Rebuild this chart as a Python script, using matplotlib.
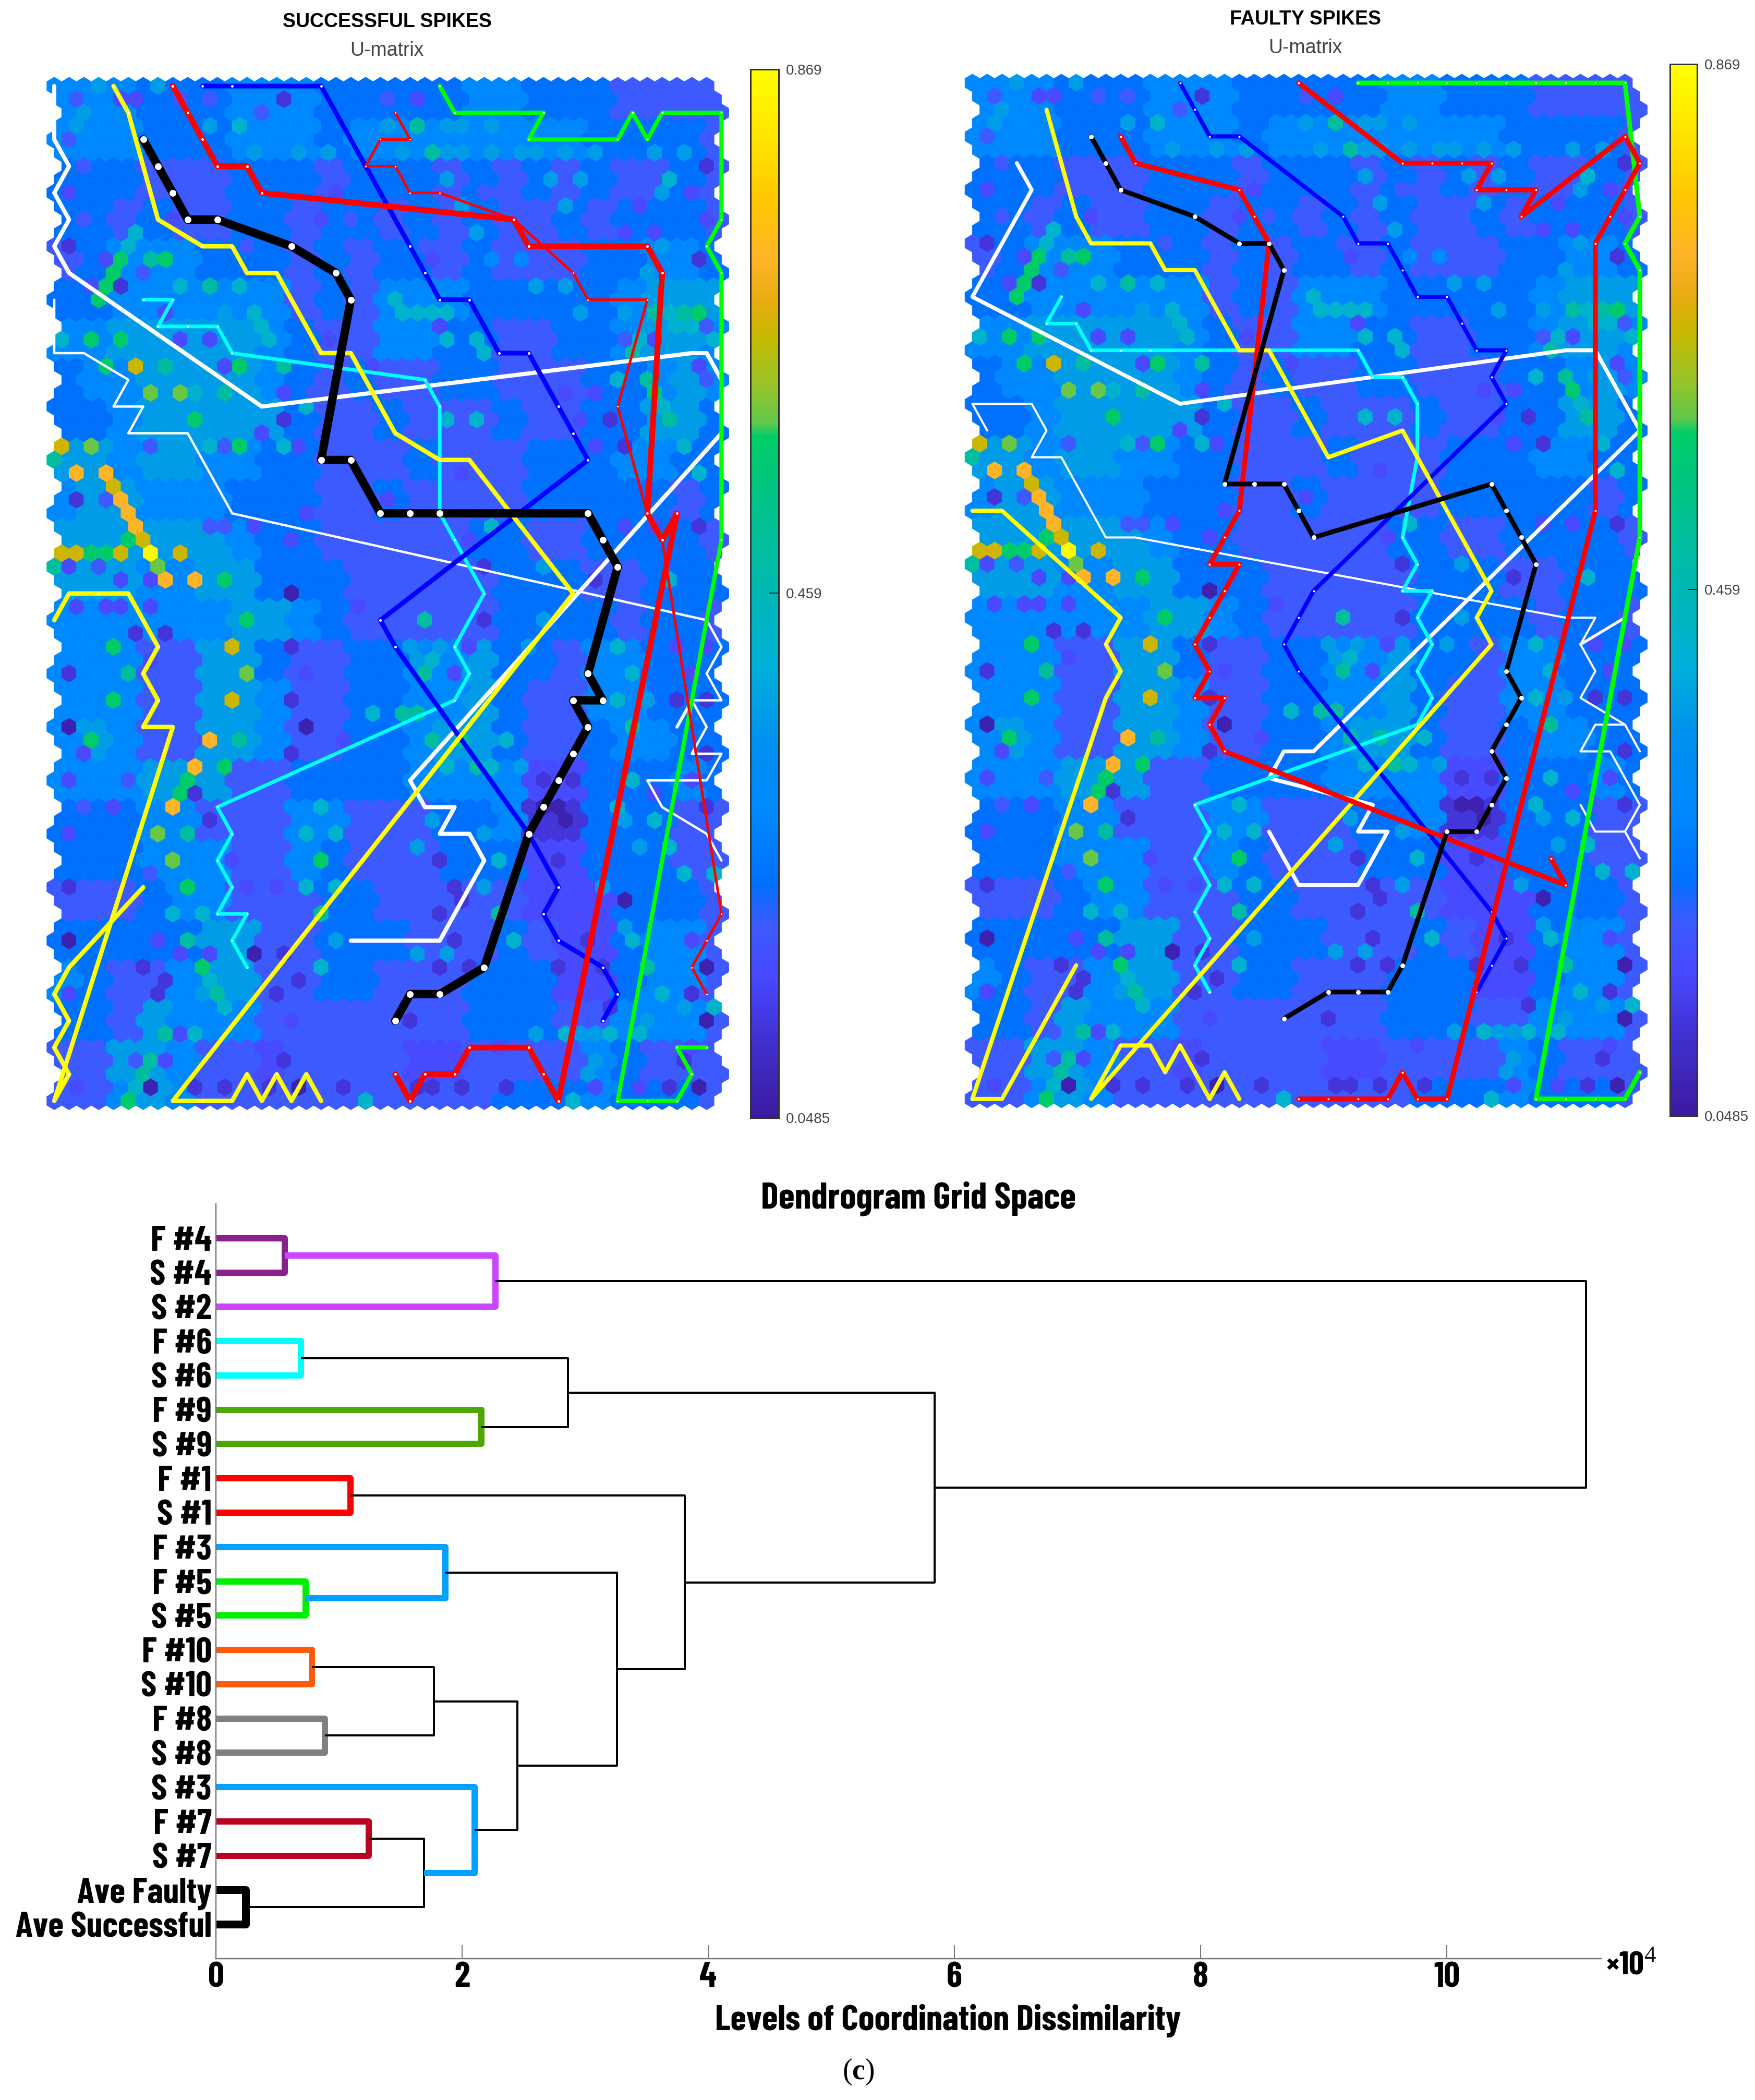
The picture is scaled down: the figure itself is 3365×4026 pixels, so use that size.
import numpy as np
import matplotlib
matplotlib.use('Agg')
import matplotlib.pyplot as plt
from matplotlib.collections import PolyCollection
from matplotlib.colors import LinearSegmentedColormap, Normalize

W = 3366
H = 4026
PX = 72 / 100.0  # one image pixel in points at dpi=100

plt.rcParams['font.family'] = ['Liberation Sans', 'DejaVu Sans']
plt.rcParams['mathtext.fontset'] = 'custom'
plt.rcParams['mathtext.rm'] = 'Liberation Serif'
plt.rcParams['mathtext.bf'] = 'Liberation Serif:bold'

# U-matrix colour scale
cbar_ticks = [0.0485, 0.459, 0.869]
cbar_labels = ['0.0485', '0.459', '0.869']
scale_fracs = [0, .074, .133, .184, .223, .288, .36, .424, .5, .553, .65, .663, .70, .747, .78, .82, .877, .94, 1]
scale_colors = ['#3c1aa0', '#4030d0', '#4848ff', '#3c5aff', '#0070ff', '#0088ff', '#0090f0', '#00aedc', '#00b8b4',
                '#00be9a', '#00cc66', '#60c84c', '#98c428', '#c8b800', '#e8ac10', '#ffb428', '#ffc800', '#ffe600', '#ffff00']

# estimated cell values, coarse background (3 hex rows x 2 hex columns per character)
umat_levels = {'0': .072, '1': .122, '2': .163, '3': .20, '4': .233, '5': .285, '6': .365, '7': .42,
               '8': .49, '9': .574, 'a': .598, 'b': .664, 'c': .721, 'd': .861}
umat_coarse = [
    '55544455544444554443333',
    '55544455545555555544443',
    '44433344434443434343343',
    '44343344344343433434443',
    '34555444343443433344554',
    '44555555343555444445666',
    '55666665433554433445665',
    '45566665434334433344565',
    '44566666433433343344664',
    '66566554433343334445544',
    '56655544433433334444434',
    '66666654433333443344443',
    '66655664443333344433444',
    '55555566543333344443443',
    '55533664334455644355444',
    '55533665334455643355444',
    '56533665334456643345544',
    '55566633444455552244454',
    '44455333553334451144433',
    '44455533543334442244433',
    '33345533344333332224443',
    '44444663344433343224553',
    '54335663344333444224553',
    '44365553333333444335553',
    '33665332333322333354333',
    '33565333333333344454443',
]

# single cells that stand out, as (hex row, x position in hex widths)
spots_0 = [(61, 38.5), (66, 44), (70, 44), (75, 43.5), (48, 17), (48, 1), (64, 1), (65, 13.5), (75, 6.5), (75, 16.5),
           (38, 16), (54, 32.5), (54, 33.5), (55, 34.5)]
spots_1 = [(1, 15.5), (6, 43.5), (13, 43.5), (12, 1), (15, 4.5), (25, 37.5), (25, 15.5), (27, 38.5), (33, 43.5), (36, 29),
           (37, 36.5), (40, 29), (41, 5.5), (41, 7.5), (42, 16), (44, 1), (46, 16), (46, 42), (46, 44), (50, 16), (50, 44),
           (52, 33), (52, 35), (53, 9.5), (54, 44), (55, 10.5), (56, 35), (58, 26), (58, 34), (60, 1), (60, 27), (61, 27.5),
           (62, 26), (64, 27), (64, 35.5), (65, 15.5), (66, 6), (66, 26), (66, 28), (66, 36.5), (66, 34), (67, 7.5),
           (67, 16.5), (68, 7), (68, 15), (68, 43), (69, 37.5), (70, 24), (73, 15.5), (73, 42.5), (75, 9.5), (75, 11.5),
           (75, 14.5), (75, 19.5), (75, 24.5), (75, 25.5), (75, 27.5), (75, 30.5), (75, 41.5), (31, 1.5)]
spots_2 = [(1, 4.5), (1, 5.5), (1, 24.5), (8, 1), (8, 19), (8, 43), (9, 39.5), (10, 8), (10, 18), (10, 44), (11, 38.5),
           (11, 40.5), (13, 3.5), (13, 25.5), (15, 2.5), (17, 7.5), (18, 26), (19, 8.5), (19, 10.5), (19, 18.5), (19, 40.5),
           (21, 11.5), (21, 21.5), (21, 43.5), (23, 15.5), (23, 34.5), (23, 36.5), (25, 35.5), (26, 14), (27, 16.5), (27, 36.5),
           (29, 27.5), (31, 22.5), (32, 17), (33, 13.5), (33, 38.5), (33, 40.5), (34, 16), (34, 28), (36, 1), (37, 4.5),
           (37, 6.5), (39, 1.5), (39, 3.5), (39, 4.5), (39, 6.5), (39, 20.5), (42, 28), (42, 42), (42, 44), (43, 6.5),
           (44, 17), (44, 27), (44, 43), (49, 19.5), (50, 2), (52, 1), (52, 43), (53, 40.5), (54, 4), (56, 1), (58, 12),
           (60, 13), (60, 15), (62, 34), (63, 37.5), (64, 7), (64, 43), (65, 8.5), (65, 10.5), (68, 1), (70, 16), (71, 8.5),
           (72, 43), (72, 29.5), (73, 7.5), (75, 1.5), (75, 39.5), (75, 36.5), (67, 36.5)]
spots_3 = [(1, 1.5), (1, 8.5), (1, 10.5), (1, 22.5), (2, 14), (4, 1), (6, 2), (8, 9), (8, 29), (8, 31), (10, 2), (10, 10),
           (10, 20), (12, 13), (12, 25), (12, 0), (14, 6), (18, 44), (19, 38.5), (22, 44), (23, 17.5), (27, 6.5), (27, 11.5),
           (31, 3.5), (31, 42.5), (33, 10.5), (33, 11.5), (36, 3), (52, 5), (54, 2), (59, 6.5), (62, 44), (71, 19.5), (73, 5.5)]
spots_5 = [(3, 33.5), (3, 35.5), (13, 31), (13, 29)]
spots_6 = [(0, 3), (0, 7), (2, 2), (3, 1.5), (3, 10.5), (3, 22.5), (3, 26.5), (3, 27.5), (3, 29.5), (5, 23.5), (5, 26.5),
           (5, 27.5), (5, 29.5), (5, 31.5), (5, 32.5), (5, 34.5), (5, 36.5), (5, 40.5), (5, 42.5), (5, 13.5), (5, 16.5),
           (5, 18.5), (7, 26.5), (7, 33.5), (7, 35.5), (8, 40.5), (9, 27.5), (9, 34.5), (11, 28.5), (12, 41), (14, 40),
           (15, 32.5), (15, 34.5), (17, 11.5), (17, 35.5), (17, 38.5), (21, 10.5), (40, 33), (42, 24), (42, 26), (42, 32),
           (43, 24.5), (46, 40), (51, 31.5), (55, 38), (55, 25.5), (56, 29), (57, 24.5), (57, 39.5), (60, 29), (60, 37),
           (63, 38), (62, 29.5), (65, 24.5), (65, 26.5), (64, 19), (69, 42), (70, 40), (71, 32.5), (71, 35.5), (71, 36.5),
           (73, 36), (74, 35.5), (36, 33)]
spots_7 = [(3, 12.5), (7, 41.5), (11, 5.5), (12, 5), (15, 8.5), (15, 12.5), (16, 23), (17, 13.5), (17, 23.5), (17, 24.5),
           (17, 25.5), (17, 26.5), (17, 41.5), (18, 14), (18, 41.5), (18, 43), (19, 0.5), (19, 14.5), (19, 26.5), (19, 28.5),
           (19, 39.5), (19, 44.5), (20, 29), (22, 38), (23, 9.5), (24, 17), (24, 41), (25, 26.5), (25, 28.5), (27, 10.5),
           (27, 15.5), (27, 42.5), (29, 43.5), (33, 29.5), (37, 41.5), (42, 38), (43, 25.5), (44, 39), (46, 38), (47, 21.5),
           (49, 30.5), (51, 26.5), (51, 29.5), (52, 39), (54, 18), (54, 38), (55, 40.5), (56, 17), (56, 19), (57, 41.5),
           (58, 30), (59, 42.5), (59, 44.5), (60, 17), (60, 19), (62, 8), (62, 10), (64, 31), (64, 39), (66, 18), (67, 10.5),
           (68, 41), (69, 11.5), (69, 44.5), (71, 9.5), (71, 34.5), (71, 37.5), (71, 39.5), (75, 5.5), (76, 21), (76, 35)]
spots_8 = [(3, 24.5), (5, 25.5), (13, 6.5), (15, 10.5), (17, 40.5), (17, 42.5), (20, 39), (21, 7.5), (21, 15.5), (22, 40),
           (23, 11.5), (25, 41.5), (28, 0), (36, 0), (40, 25), (44, 25), (47, 23.5), (47, 24.5), (48, 39), (49, 12.5),
           (49, 25.5), (49, 27.5), (51, 28.5), (62, 18), (62, 30), (64, 9), (44, 5), (56, 9), (66, 40), (68, 11), (71, 7.5),
           (73, 6.5), (74, 6)]
spots_9 = [(13, 4.5), (13, 7.5), (14, 4), (15, 3.5), (16, 3), (17, 43.5), (19, 2.5), (19, 4.5), (21, 3.5), (21, 12.5),
           (23, 40.5), (25, 9.5), (27, 12.5), (34, 5), (35, 2.5), (35, 3.5), (37, 11.5), (40, 13), (42, 4), (46, 4), (49, 2.5),
           (51, 11.5), (52, 9), (53, 8.5), (58, 18), (60, 9), (66, 10), (76, 5)]
spots_a = [(23, 6.5), (23, 8.5), (27, 2.5), (36, 7), (44, 13), (56, 7), (58, 8)]
spots_b = [(21, 5.5), (27, 0.5), (30, 4), (34, 6), (35, 0.5), (35, 1.5), (35, 4.5), (35, 8.5), (42, 12), (46, 12)]
spots_c = [(29, 1.5), (29, 3.5), (31, 4.5), (32, 5), (33, 5.5), (37, 7.5), (37, 9.5), (49, 10.5), (51, 9.5), (54, 8)]
spots_d = [(35, 6.5)]

# neuron paths, left map (successful), as (x in hex widths, neuron row)
s_white_thin = [(0, 8), (0, 10), (2, 10), (5, 11), (4, 12), (6, 12), (5, 13), (9, 13), (12, 16), (44, 20), (45, 21), (44, 22),
                (45, 23), (43, 23), (44, 24), (43, 25), (45, 25), (44, 26), (40, 26), (41, 27), (44, 28), (45, 29)]
s_white_stub = [(42, 24), (43, 23)]
s_white_a = [(0, 0), (0, 2), (1, 3), (0, 4), (1, 5), (0, 6), (1, 7), (14, 12), (43, 10), (44, 10), (45, 11)]
s_white_b = [(45, 13), (24, 26), (25, 27), (27, 27), (26, 28), (28, 28), (29, 29), (27, 31), (26, 32), (20, 32)]
s_cyan = [(6, 8), (8, 8), (7, 9), (9, 9), (11, 9), (12, 10), (25, 11), (26, 12), (26, 16), (27, 17), (29, 19), (27, 21), (28, 22),
          (27, 23), (11, 27), (12, 28), (11, 29), (12, 30), (11, 31), (13, 31), (12, 32), (13, 33)]
s_blue = [(10, 0), (12, 0), (18, 0), (24, 6), (25, 7), (26, 8), (28, 8), (30, 10), (32, 10), (34, 12), (35, 13), (36, 14), (22, 20),
          (23, 21), (32, 28), (34, 30), (33, 31), (34, 32), (37, 33), (38, 34), (37, 35)]
s_green = [(26, 0), (27, 1), (33, 1), (32, 2), (38, 2), (39, 1), (40, 2), (41, 1), (45, 1), (45, 5), (44, 6), (45, 7), (45, 17),
           (38, 38), (40, 38), (42, 38), (43, 37), (42, 36), (44, 36)]
s_yellow_a = [(4, 0), (5, 1), (7, 5), (10, 6), (12, 6), (13, 7), (15, 7), (18, 10), (20, 10), (23, 13), (26, 14), (28, 14), (35, 19),
              (8, 38), (10, 38), (12, 38), (13, 37), (14, 38), (15, 37), (16, 38), (17, 37), (18, 38)]
s_yellow_b = [(0, 20), (1, 19), (3, 19), (5, 19), (6, 20), (7, 21), (6, 22), (7, 23), (6, 24), (8, 24), (0, 38), (1, 37), (0, 36),
              (1, 35), (0, 34), (1, 33), (6, 30)]
s_red_thin = [(23, 1), (24, 2), (22, 2), (21, 3), (23, 3), (24, 4), (26, 4), (31, 5), (35, 7), (36, 8), (40, 8), (38, 12), (40, 16),
              (41, 17), (45, 31), (44, 32), (43, 33), (44, 34)]
s_red = [(8, 0), (9, 1), (10, 2), (11, 3), (13, 3), (14, 4), (31, 5), (32, 6), (40, 6), (41, 7), (40, 16), (41, 17), (42, 16),
         (34, 38), (33, 37), (32, 36), (28, 36), (27, 37), (25, 37), (24, 38), (23, 37)]
s_black = [(6, 2), (7, 3), (8, 4), (9, 5), (11, 5), (16, 6), (19, 7), (20, 8), (18, 14), (20, 14), (22, 16), (24, 16), (26, 16),
           (36, 16), (37, 17), (38, 18), (36, 22), (37, 23), (35, 23), (36, 24), (35, 25), (34, 26), (33, 27), (32, 28), (29, 33),
           (26, 34), (24, 34), (23, 35)]

# neuron paths, right map (faulty)
f_white_a = [(1, 13), (0, 12), (4, 12), (5, 13), (4, 14), (6, 14), (9, 17), (11, 17), (40, 20), (42, 20), (41, 21), (42, 22), (41, 23),
             (44, 24), (45, 25)]
f_white_b = [(44, 20), (41, 21)]
f_white_c = [(44, 24), (42, 24), (41, 25), (43, 25), (45, 27), (44, 28), (42, 28), (41, 27)]
f_white_d = [(44, 28), (45, 29)]
f_white_thick = [(3, 3), (4, 4), (0, 8), (14, 12), (40, 10), (42, 10), (45, 13), (23, 25), (21, 25), (20, 26), (27, 27), (26, 28),
                 (28, 28), (26, 30), (22, 30), (21, 29), (20, 28)]
f_cyan = [(6, 8), (5, 9), (7, 9), (8, 10), (10, 10), (12, 10), (26, 10), (27, 11), (29, 11), (30, 12), (30, 14), (29, 17), (30, 18),
          (29, 19), (31, 19), (30, 20), (31, 21), (30, 22), (31, 23), (30, 24), (15, 27), (16, 28), (15, 29), (16, 30), (15, 31),
          (16, 32), (15, 33), (16, 34)]
f_blue = [(14, 0), (15, 1), (16, 2), (18, 2), (25, 5), (26, 6), (28, 6), (29, 7), (30, 8), (32, 8), (33, 9), (34, 10), (36, 10), (35, 11),
          (36, 12), (23, 19), (22, 20), (21, 21), (22, 22), (35, 31), (36, 32), (35, 33), (34, 34)]
f_green = [(26, 0), (28, 0), (30, 0), (32, 0), (34, 0), (36, 0), (38, 0), (40, 0), (42, 0), (44, 0), (45, 5), (44, 6), (45, 7), (45, 17),
           (38, 38), (40, 38), (42, 38), (44, 38), (45, 37)]
f_yellow_a = [(5, 1), (7, 5), (8, 6), (10, 6), (12, 6), (13, 7), (15, 7), (16, 8), (17, 9), (18, 10), (20, 10), (21, 11), (22, 12), (23, 13),
              (24, 14), (29, 13), (30, 14), (31, 15), (32, 16), (34, 18), (35, 19), (34, 20), (35, 21), (8, 38), (9, 37), (10, 36),
              (12, 36), (13, 37), (14, 36), (15, 37), (16, 38), (17, 37), (18, 38)]
f_yellow_b = [(0, 16), (2, 16), (10, 20), (9, 21), (10, 22), (9, 23), (0, 38), (2, 38), (3, 37), (4, 36), (5, 35), (6, 34), (7, 33)]
f_red_a = [(22, 0), (29, 3), (31, 3), (33, 3), (35, 3), (34, 4), (36, 4), (38, 4), (37, 5), (44, 2), (45, 3), (44, 4), (43, 5), (42, 6),
           (42, 16), (32, 38), (30, 38), (29, 37), (28, 38), (26, 38), (24, 38), (22, 38)]
f_red_b = [(10, 2), (11, 3), (18, 4), (19, 5), (20, 6), (18, 16), (17, 17), (16, 18), (18, 18), (17, 19), (16, 20), (15, 21), (16, 22),
           (15, 23), (17, 23), (16, 24), (17, 25), (40, 30), (39, 29)]
f_black = [(8, 2), (9, 3), (10, 4), (15, 5), (18, 6), (20, 6), (21, 7), (17, 15), (19, 15), (21, 15), (22, 16), (23, 17), (35, 15), (36, 16),
           (37, 17), (38, 18), (36, 22), (37, 23), (36, 24), (35, 25), (36, 26), (35, 27), (34, 28), (32, 28), (29, 33), (28, 34), (26, 34),
           (24, 34), (21, 35)]

# dendrogram
leaf_labels = ['F #4', 'S #4', 'S #2', 'F #6', 'S #6', 'F #9', 'S #9', 'F #1', 'S #1', 'F #3', 'F #5', 'S #5', 'F #10', 'S #10',
               'F #8', 'S #8', 'S #3', 'F #7', 'S #7', 'Ave Faulty', 'Ave Successful']
link_left = [0, 21, 3, 5, 23, 7, 10, 9, 12, 14, 29, 17, 19, 32, 16, 31, 28, 26, 25, 22]
link_right = [1, 2, 4, 6, 24, 8, 11, 27, 13, 15, 30, 18, 20, 33, 34, 35, 36, 37, 38, 39]
link_height = [0.56, 2.27, 0.69, 2.155, 2.86, 1.093, 0.73, 1.865, 0.78, 0.886, 1.77, 1.24, 0.24, 1.69, 2.10, 2.45, 3.26, 3.81, 5.84, 11.13]
link_color = ['#8b1f8b', '#cc44ff', '#00ffff', '#4ca800', 'k', '#ff0000', '#00ee00', '#00a0ff', '#ff5a0a', '#808080', 'k', '#bb0022', 'k', 'k',
              '#00a0ff', 'k', 'k', 'k', 'k', 'k']
link_px = [12, 12, 12, 12, 4, 12, 12, 12, 12, 12, 4, 12, 15, 4, 12, 4, 4, 4, 4, 4]
x_ticks = [0, 2, 4, 6, 8, 10]

cmap = LinearSegmentedColormap.from_list('umat', list(zip(scale_fracs, scale_colors)), N=512)
norm = Normalize(cbar_ticks[0], cbar_ticks[-1])

n_rows = 77
n_cols = 45
row_shift = [0, 0.5, 1, 0.5]

grid = np.zeros((n_rows, n_cols))
for r in range(n_rows):
    for c in range(n_cols):
        x = c + row_shift[r % 4]
        text = umat_coarse[min(r // 3, len(umat_coarse) - 1)]
        grid[r, c] = umat_levels[text[min(int(x // 2), 22)]]

spot_groups = [('0', spots_0), ('1', spots_1), ('2', spots_2), ('3', spots_3), ('5', spots_5), ('6', spots_6), ('7', spots_7),
               ('8', spots_8), ('9', spots_9), ('a', spots_a), ('b', spots_b), ('c', spots_c), ('d', spots_d)]
for level, cells in spot_groups:
    for r, x in cells:
        c = int(np.floor(x - row_shift[r % 4] + 0.5))
        grid[r, min(max(c, 0), n_cols - 1)] = umat_levels[level]

fig = plt.figure(figsize=(W / 100, H / 100), dpi=100, facecolor='white')


def px_axes(x0, y0, x1, y1):
    return fig.add_axes([x0 / W, 1 - y1 / H, (x1 - x0) / W, (y1 - y0) / H])


def put_text(x, y, s, **kw):
    fig.text(x / W, 1 - y / H, s, ha='center', va='center', **kw)


def draw_map(x0, y0, pitch_x, pitch_y, paths, bar, title, title_xy):
    ax = px_axes(x0 - pitch_x, y0 - pitch_y, x0 + 46 * pitch_x, y0 + 39 * pitch_y)
    ax.set_xlim(-1, 46)
    ax.set_ylim(39, -1)
    ax.axis('off')

    polys = []
    vals = []
    for r in range(n_rows):
        for c in range(n_cols):
            cx = c + row_shift[r % 4]
            cy = r / 2
            polys.append([(cx, cy - 1 / 3), (cx + .5, cy - 1 / 6), (cx + .5, cy + 1 / 6),
                          (cx, cy + 1 / 3), (cx - .5, cy + 1 / 6), (cx - .5, cy - 1 / 6)])
            vals.append(grid[r, c])
    hexes = PolyCollection(polys, array=np.array(vals), cmap=cmap, norm=norm, edgecolors='face', linewidths=0.6)
    ax.add_collection(hexes)

    for path, color, lw, dot in paths:
        xs = [p[0] for p in path]
        ys = [p[1] for p in path]
        ax.plot(xs, ys, color=color, lw=lw * PX, solid_joinstyle='round', solid_capstyle='round',
                marker='o', ms=dot * PX, mfc='white', mec='white', mew=0)

    cax = px_axes(*bar)
    cb = fig.colorbar(hexes, cax=cax, ticks=cbar_ticks)
    cb.ax.set_yticklabels(cbar_labels)
    cb.ax.tick_params(direction='in', length=18 * PX, width=1.5 * PX, color='k', labelsize=20, labelcolor='#444444', pad=14 * PX)
    cb.outline.set_edgecolor('#333333')
    cb.outline.set_linewidth(3 * PX)

    put_text(title_xy[0], title_xy[1], title, fontsize=27, fontweight='bold', color='k')
    put_text(title_xy[0], title_xy[1] + 55, 'U-matrix', fontsize=27, color='#444444')


left_paths = [(s_white_thin, 'white', 4.5, 0), (s_white_stub, 'white', 6, 0), (s_white_a, 'white', 8, 0), (s_white_b, 'white', 8, 0),
              (s_cyan, '#00ffff', 7, 4), (s_blue, '#0000ff', 9, 5), (s_green, '#00ff00', 8, 4), (s_yellow_a, '#ffff00', 8.5, 4),
              (s_yellow_b, '#ffff00', 8.5, 4), (s_red_thin, '#ff0000', 5, 3), (s_red, '#ff0000', 11, 5), (s_black, 'k', 16, 13)]
right_paths = [(f_white_a, 'white', 4, 0), (f_white_b, 'white', 5.5, 0), (f_white_c, 'white', 4, 0), (f_white_d, 'white', 4, 0),
               (f_white_thick, 'white', 7.5, 0), (f_cyan, '#00ffff', 7, 4), (f_blue, '#0000ff', 8, 4), (f_green, '#00ff00', 9, 4),
               (f_yellow_a, '#ffff00', 8, 4), (f_yellow_b, '#ffff00', 8, 4), (f_red_a, '#ff0000', 9.5, 4), (f_red_b, '#ff0000', 9.5, 4),
               (f_black, 'k', 9, 9)]

draw_map(104, 165, 28.43, 51.2, left_paths, (1439, 133, 1493, 2143), 'SUCCESSFUL SPIKES', (742, 42))
draw_map(1864.4, 159, 28.44, 51.26, right_paths, (3202, 123, 3254, 2139), 'FAULTY SPIKES', (2503, 37))

# dendrogram axes: x=0 at px 414, 1e4 = 236 px; one leaf = 65.85 px
ax = px_axes(414, 2308, 3070, 3755)
ax.set_xlim(0, (3070 - 414) / 236)
ax.set_ylim(0, 22)

n_leaves = len(leaf_labels)
node_x = [0.0] * n_leaves
node_y = [float(n_leaves - i) for i in range(n_leaves)]
for a, b, h, color, lw in zip(link_left, link_right, link_height, link_color, link_px):
    ax.plot([node_x[a], h, h, node_x[b]], [node_y[a], node_y[a], node_y[b], node_y[b]], color=color, lw=lw * PX,
            solid_joinstyle='round', solid_capstyle='butt')
    node_x.append(h)
    node_y.append((node_y[a] + node_y[b]) / 2)

narrow = ['Barlow Condensed', 'Liberation Sans Narrow', 'DejaVu Sans']
ax.spines['top'].set_visible(False)
ax.spines['right'].set_visible(False)
ax.spines['left'].set_color('#777777')
ax.spines['bottom'].set_color('#777777')
ax.spines['left'].set_linewidth(2.5 * PX)
ax.spines['bottom'].set_linewidth(2.5 * PX)
ax.set_yticks(node_y[:n_leaves])
ax.set_yticklabels(leaf_labels, family=narrow, fontweight='bold', fontsize=49)
ax.tick_params(axis='y', length=0, pad=8 * PX)
ax.set_xticks(x_ticks)
ax.set_xticklabels([str(v) for v in x_ticks], family=narrow, fontweight='bold', fontsize=49)
ax.tick_params(axis='x', direction='in', length=26 * PX, width=2 * PX, color='#777777', pad=6 * PX)

put_text(1761, 2298, 'Dendrogram Grid Space', family=narrow, fontweight='bold', fontsize=51)
put_text(1818, 3874, 'Levels of Coordination Dissimilarity', family=narrow, fontweight='bold', fontsize=50)
put_text(3127, 3768, '×10$^{4}$', family=narrow, fontweight='bold', fontsize=46)
put_text(1646, 3972, '($\\mathbf{c}$)', family=['Liberation Serif'], fontsize=40)

fig.savefig('out.png', dpi=100)
